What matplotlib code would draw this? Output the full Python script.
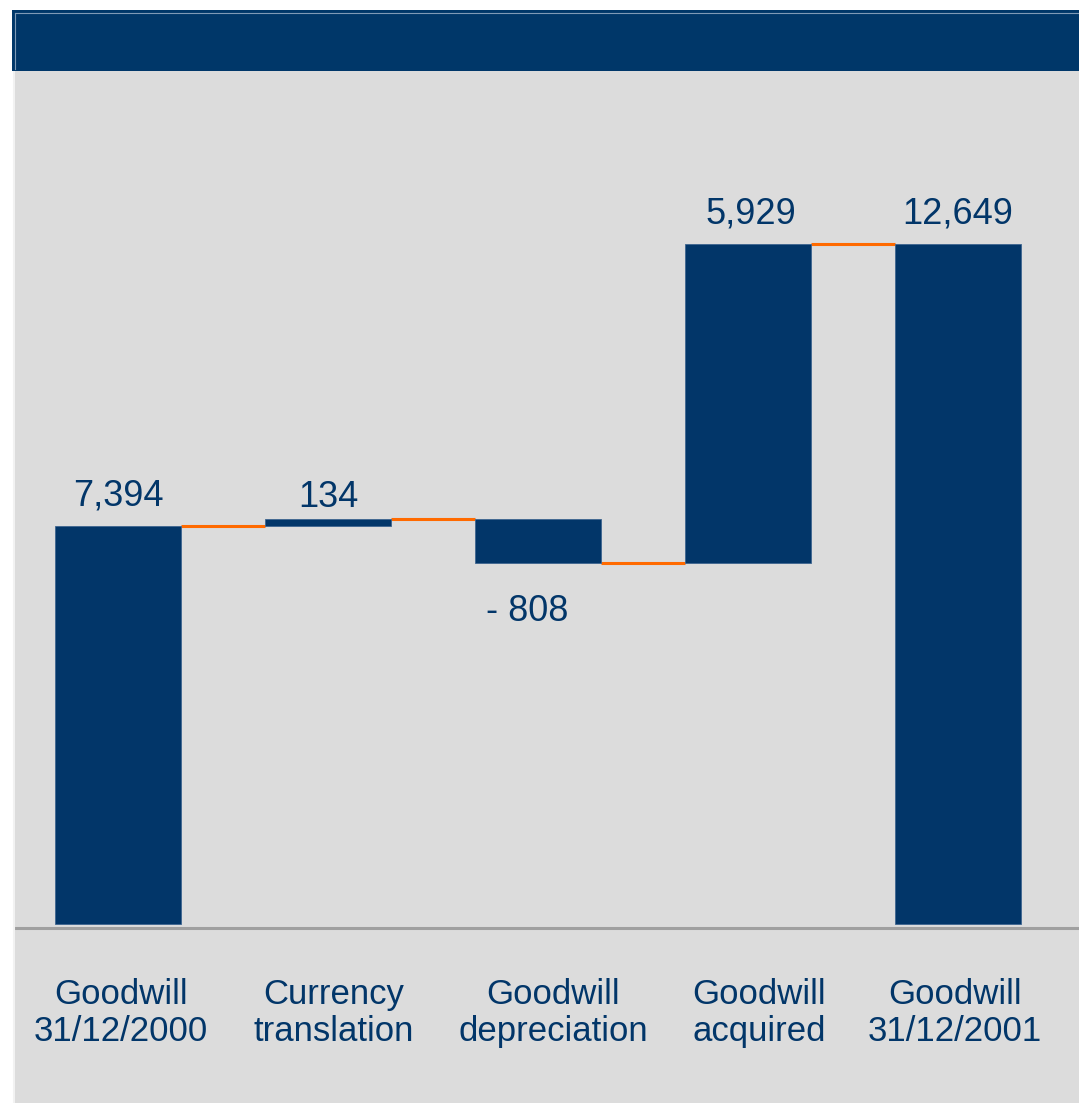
import matplotlib
matplotlib.use("Agg")
import matplotlib.pyplot as plt
from matplotlib.patches import Rectangle
from matplotlib.lines import Line2D
import matplotlib.transforms as mtransforms

plt.rcParams['font.family'] = ['Liberation Sans', 'DejaVu Sans']

categories = ["Goodwill\n31/12/2000", "Currency\ntranslation", "Goodwill\ndepreciation",
              "Goodwill\nacquired", "Goodwill\n31/12/2001"]
start_value = 7394
changes = [134, -808, 5929]
end_value = 12649

NAVY = '#023669'
ORANGE = '#FF6A00'
BG = '#DCDCDC'

W, H = 1079, 1103
fig = plt.figure(figsize=(W / 100, H / 100), dpi=100, facecolor='white')

# background panels
fig.add_artist(Rectangle((15 / W, 0), 1 - 15 / W, (H - 71) / H, transform=fig.transFigure,
                         facecolor=BG, edgecolor='none', zorder=0))
fig.add_artist(Line2D([14 / W, 14 / W], [0, (H - 71) / H], transform=fig.transFigure,
                      color='#F2F2F2', lw=1.5, zorder=1))
fig.add_artist(Rectangle((12 / W, (H - 71) / H), 1 - 12 / W, 61 / H, transform=fig.transFigure,
                         facecolor='#003769', edgecolor='none', zorder=1))
fig.add_artist(Line2D([14.5 / W, 1], [(H - 12.5) / H, (H - 12.5) / H], transform=fig.transFigure,
                      color='#7F9AB6', lw=0.8, zorder=2))
fig.add_artist(Line2D([14.5 / W, 14.5 / W], [(H - 69) / H, (H - 12.5) / H], transform=fig.transFigure,
                      color='#7F9AB6', lw=0.8, zorder=2))

ax = fig.add_axes([15 / W, 0, 1 - 15 / W, (H - 71) / H])
ax.set_facecolor('none')
ax.axis('off')
ax.set_xlim(-0.49, 4.576)
ax.set_ylim(-3330, 15867)

width = 0.6
# compute waterfall segments
bottoms, tops = [0], [start_value]
level = start_value
levels = [start_value]
for c in changes:
    new = level + c
    bottoms.append(min(level, new)); tops.append(max(level, new))
    level = new
    levels.append(level)
bottoms.append(0); tops.append(end_value)
values = [start_value] + changes + [end_value]

for i in range(len(categories)):
    ax.bar(i, tops[i] - bottoms[i], bottom=bottoms[i], width=width, color=NAVY,
           edgecolor='#3D6590', linewidth=0.6, zorder=3)

# connectors
for i in range(len(categories) - 1):
    lvl = levels[i]
    ax.plot([i + width / 2, i + 1 - width / 2], [lvl, lvl], color=ORANGE, lw=2.2,
            solid_capstyle='butt', zorder=2)

# baseline
off = mtransforms.offset_copy(ax.transData, fig=fig, x=0, y=-4, units='dots')
ax.plot([-0.49, 4.576], [0, 0], color='#A0A0A0', lw=2.2, transform=off, zorder=2)


def fmt(v):
    if v < 0:
        return "- {:,}".format(-v)
    return "{:,}".format(v)


for i, v in enumerate(values):
    if v < 0:
        ax.annotate(fmt(v), (i, bottoms[i]), xytext=(-8, -42), textcoords='offset points',
                    ha='center', va='baseline', fontsize=26, color=NAVY)
    else:
        small = (tops[i] - bottoms[i]) < 300
        ax.annotate(fmt(v), (i, tops[i]), xytext=(2 if i == 3 else 0, 9 if small else 15),
                    textcoords='offset points',
                    ha='center', va='baseline', fontsize=26, color=NAVY)

label_dx = [2, 4, 11, 8, -2]  # points, small horizontal nudges of category labels
for i, cat in enumerate(categories):
    ax.annotate(cat, (i, 0), xytext=(label_dx[i], -39), textcoords='offset points',
                ha='center', va='top', fontsize=25, color=NAVY, linespacing=1.15)

fig.savefig('out.png', dpi=100, facecolor='white')
